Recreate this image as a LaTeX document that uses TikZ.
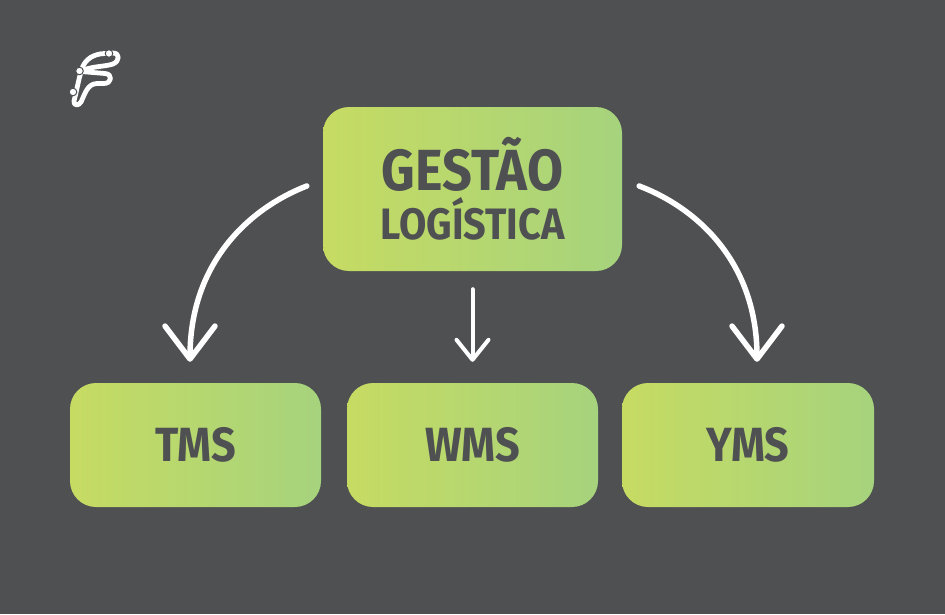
\documentclass[tikz,border=0pt]{standalone}
\usepackage{fontspec}
\usetikzlibrary{arrows.meta}
\newfontfamily\boxfont[FakeStretch=0.9]{Fira Sans}
\definecolor{slatebg}{HTML}{4F5052}
\definecolor{limeleft}{HTML}{C6DB62}
\definecolor{limeright}{HTML}{A6D37D}
\tikzset{
  limebox/.style={rounded corners=26pt, left color=limeleft, right color=limeright, draw=none,
    text=slatebg, inner sep=0pt, align=center, font=\boxfont\bfseries},
  flowarrow/.style={draw=white, line width=5.5pt, line cap=round,
    -{Straight Barb[length=33pt,width=50pt,round]}},
  thinarrow/.style={draw=white, line width=4pt, line cap=round,
    -{Straight Barb[length=20pt,width=32pt,round]}},
  logoline/.style={draw=white, line width=4.8pt, line cap=round, line join=round},
  logodot/.style={fill=white, draw=slatebg, line width=1pt}
}
\begin{document}
\begin{tikzpicture}[x=1pt,y=-1pt]

        \fill[slatebg] (0,0) rectangle (945,614);
        \useasboundingbox (0,0) rectangle (945,614);

        % boxes
        \begin{scope}[every node/.style={limebox}]
          \node[minimum width=299pt, minimum height=164pt] (gestao) at (472.5,189)
            {\fontsize{58}{58}\selectfont GESTÃO\\[5pt]\fontsize{44}{44}\selectfont LOGÍSTICA};
          \node[minimum width=251pt, minimum height=124pt] (tms) at (195.5,445)
            {\fontsize{48}{48}\selectfont TMS};
          \node[minimum width=251pt, minimum height=124pt] (wms) at (472.5,445)
            {\fontsize{48}{48}\selectfont WMS};
          \node[minimum width=252pt, minimum height=124pt] (yms) at (748,445)
            {\fontsize{48}{48}\selectfont YMS};
        \end{scope}

        % arrows
        \draw[flowarrow] ([shift={(-16,-3)}]gestao.west) .. controls (250,208) and (190,262) .. ([shift={(-5.5,-21)}]tms.north);
        \draw[thinarrow] ([yshift=-18pt]gestao.south) -- ([yshift=21pt]wms.north);
        \draw[flowarrow] ([shift={(17,-3)}]gestao.east) .. controls (697,208) and (757,262) .. ([shift={(9,-21)}]yms.north);

        % logo
        \draw[logoline] (109,53.5) .. controls (98,53) and (88,56) .. (83,66) .. controls (79,76) and (77,90) .. (74,101) .. controls (73,106) and (79,106) .. (81,102) .. controls (85,94) and (87,84) .. (97,83.5) -- (104,83.5) .. controls (112,83.5) and (113,74) .. (105,73.5) -- (81,71.5);
        \draw[logoline] (81,71.5) .. controls (90,66) and (104,67) .. (113,64) .. controls (120,61) and (120,53) .. (113,53) -- (109,53.5);
        \fill[logodot] (109,53.5) circle (3.8pt);
        \fill[logodot] (79.5,71) circle (3.8pt);
        \fill[logodot] (73,92) circle (3.8pt);

      \end{tikzpicture}
\end{document}
